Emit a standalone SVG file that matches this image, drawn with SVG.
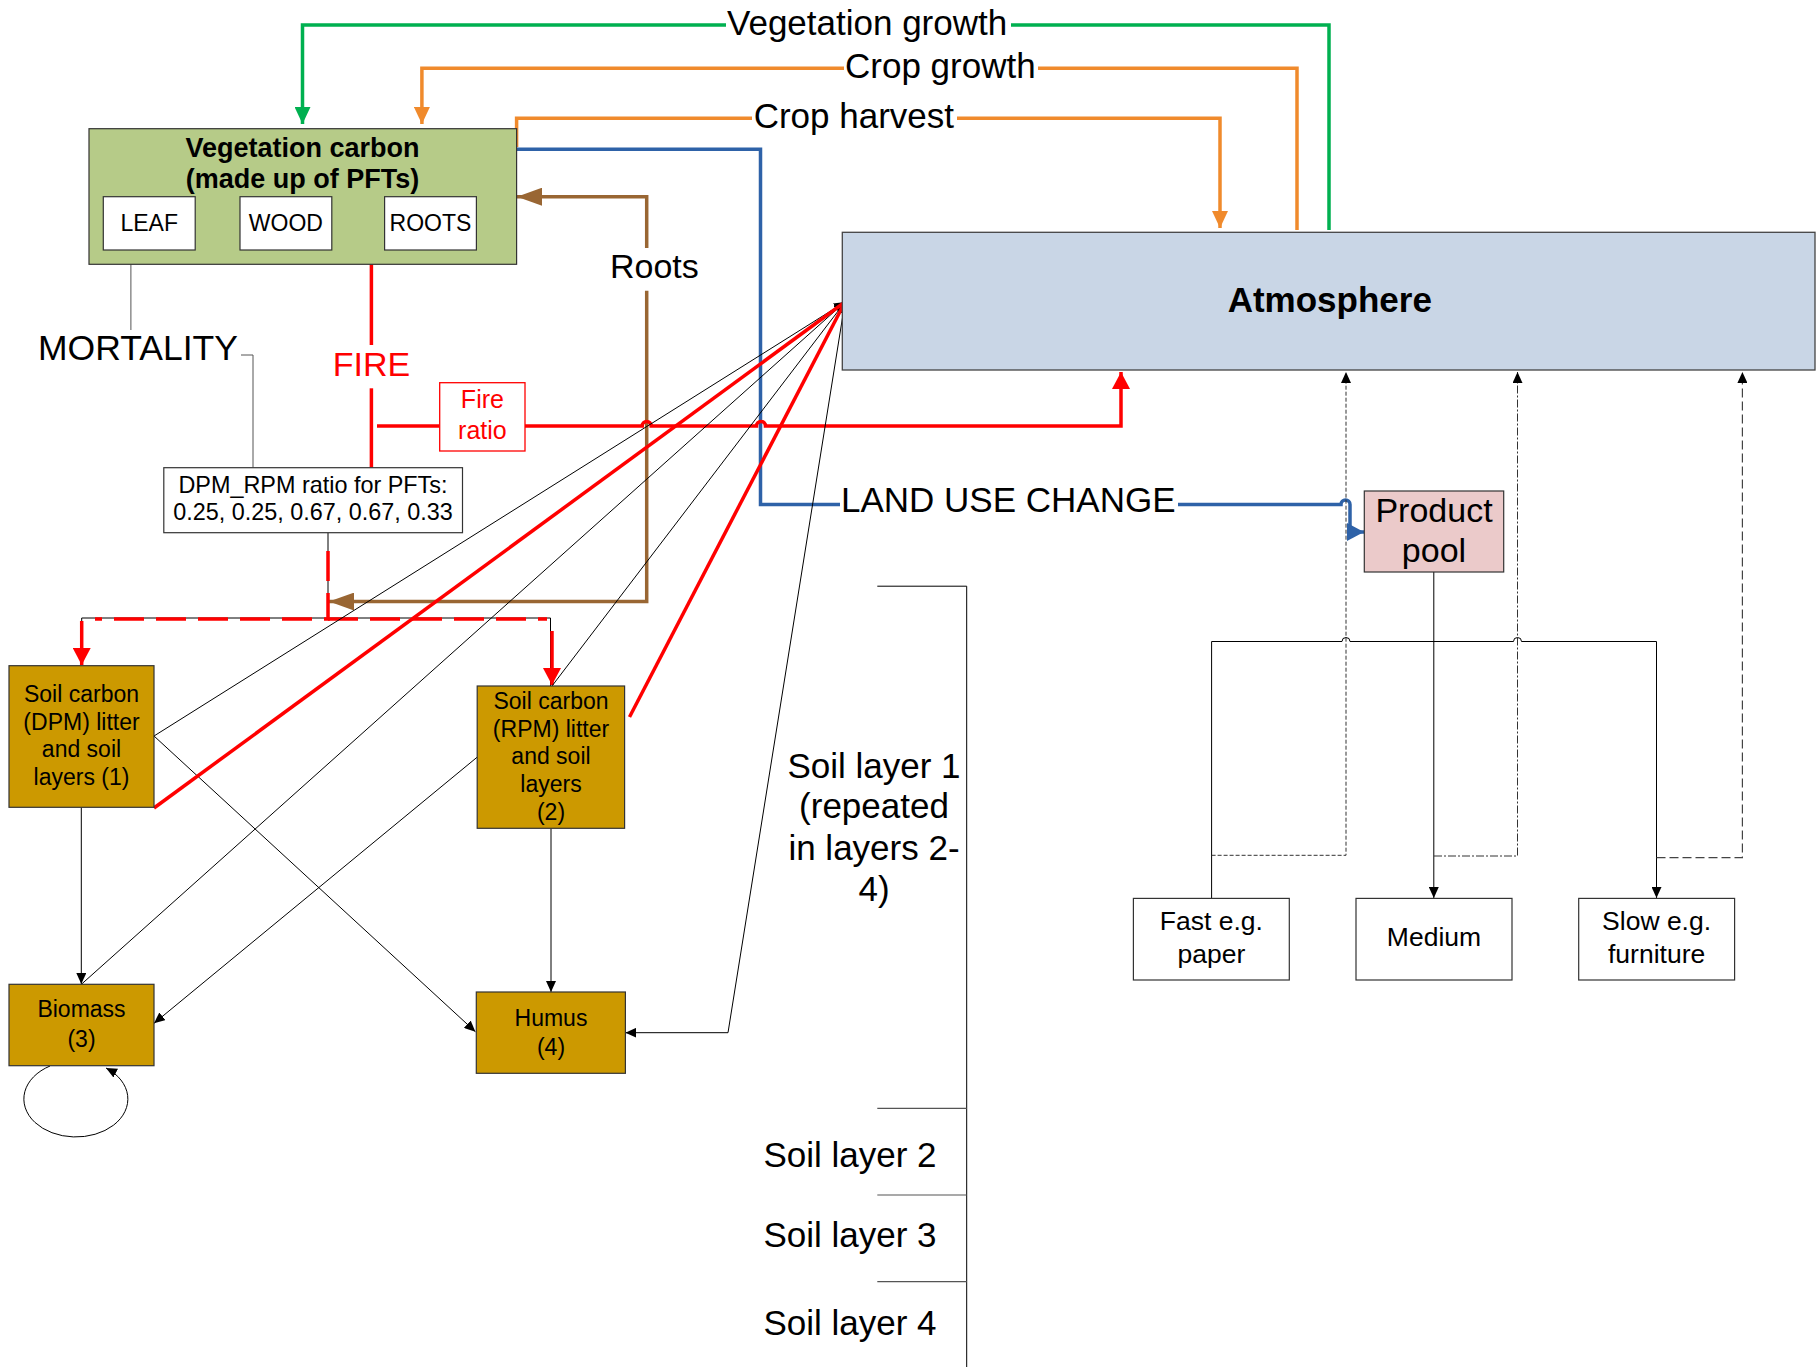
<svg xmlns="http://www.w3.org/2000/svg" width="1817" height="1367" viewBox="0 0 1817 1367">
<style>
text{font-family:"Liberation Sans",Arial,sans-serif;fill:#000}
.box{stroke:#333;stroke-width:1.2}
.wb{fill:#fff;stroke:#333;stroke-width:1.2}
.soil{fill:#CC9900;stroke:#333;stroke-width:1.2}
.thin{fill:none;stroke:#000;stroke-width:1}
.g{fill:none;stroke:#00B050;stroke-width:3.5}
.o{fill:none;stroke:#F08A2C;stroke-width:3.5}
.b{fill:none;stroke:#2E62A8;stroke-width:3.5}
.br{fill:none;stroke:#996633;stroke-width:3.5}
.r{fill:none;stroke:#FF0000;stroke-width:3.5}
.lab{font-size:34px}
.sl{font-size:35px}
.mid{text-anchor:middle}
</style>
<defs>
<marker id="mg" markerUnits="userSpaceOnUse" markerWidth="18" markerHeight="16" refX="17" refY="8" orient="auto"><path d="M0,0 L17,8 L0,16 z" fill="#00B050"/></marker>
<marker id="mo" markerUnits="userSpaceOnUse" markerWidth="18" markerHeight="16" refX="17" refY="8" orient="auto"><path d="M0,0 L17,8 L0,16 z" fill="#F08A2C"/></marker>
<marker id="mb" markerUnits="userSpaceOnUse" markerWidth="18" markerHeight="18" refX="17" refY="9" orient="auto"><path d="M0,0 L17,9 L0,18 z" fill="#2E62A8"/></marker>
<marker id="mbr" markerUnits="userSpaceOnUse" markerWidth="26" markerHeight="18" refX="25" refY="9" orient="auto"><path d="M0,0 L25,9 L0,18 z" fill="#996633"/></marker>
<marker id="mr" markerUnits="userSpaceOnUse" markerWidth="18" markerHeight="18" refX="17" refY="9" orient="auto"><path d="M0,0 L17,9 L0,18 z" fill="#FF0000"/></marker>
<marker id="mk" markerUnits="userSpaceOnUse" markerWidth="12" markerHeight="10" refX="11" refY="5" orient="auto"><path d="M0,0 L11,5 L0,10 z" fill="#000"/></marker>
</defs>

<g id="connectors">
  <path class="g" d="M1329,230 V25 H1011"/>
  <path class="g" d="M726,25 H302.5 V124" marker-end="url(#mg)"/>
  <path class="o" d="M1297,230 V68.3 H1038"/>
  <path class="o" d="M844,68.3 H421.9 V124" marker-end="url(#mo)"/>
  <path class="o" d="M516.6,147 V118.3 H752"/>
  <path class="o" d="M957,118.3 H1220 V228" marker-end="url(#mo)"/>
  <path class="b" d="M516.6,149.3 H760.5 V504.5 H840"/>
  <path class="b" d="M1178,504.5 H1341 a4.5,4.5 0 0 1 9,0 V532 H1364" marker-end="url(#mb)"/>
  <path class="br" d="M646.7,248 V196.7 H517" marker-end="url(#mbr)"/>
  <path class="br" d="M646.7,290.7 V601.6 H329" marker-end="url(#mbr)"/>
  <path fill="none" stroke="#555" stroke-width="1" d="M130.9,264.3 V330"/>
  <path fill="none" stroke="#555" stroke-width="1" d="M241,355 H253 V467.7"/>
  <path class="r" d="M371.4,264.3 V345"/>
  <path class="r" d="M371.4,388.3 V467.7"/>
  <path class="r" d="M377,426 H439.7"/>
  <path class="r" d="M525,426 H642.2 a4.5,4.5 0 0 1 9,0 H756.5 a4.5,4.5 0 0 1 9,0 H1121 V372" marker-end="url(#mr)"/>
  <path class="thin" d="M328,532.7 V618"/>
  <path class="thin" d="M81.7,665 V618 H550.5 V686"/>
  <path fill="none" stroke="#FF0000" stroke-width="3.5" stroke-dasharray="30,12" d="M328,551 V619 H95"/>
  <path fill="none" stroke="#FF0000" stroke-width="3.5" stroke-dasharray="30,12" d="M328,619 H547"/>
  <path class="r" d="M81.7,621 V665" marker-end="url(#mr)"/>
  <path class="r" d="M552,631 V685" marker-end="url(#mr)"/>
  <path class="thin" d="M81.3,807.3 V984" marker-end="url(#mk)"/>
  <path class="thin" d="M551,828.3 V992" marker-end="url(#mk)"/>
  <path class="thin" d="M154,736 L475.4,1031.7" marker-end="url(#mk)"/>
  <path class="thin" d="M477,757.3 L154,1023.3" marker-end="url(#mk)"/>
  <path class="thin" d="M50,1066 A52,38 0 1 0 106,1068" marker-end="url(#mk)"/>
  <path class="thin" d="M154,736 L845,302" marker-end="url(#mk)"/>
  <path class="thin" d="M81.7,984 L845,302" marker-end="url(#mk)"/>
  <path class="thin" d="M552,686 L845,302" marker-end="url(#mk)"/>
  <path class="thin" d="M845,302 L728,1032.7 H625.4" marker-end="url(#mk)"/>
  <path class="r" d="M154,808 L845,302"/>
  <path class="r" d="M629.5,717 L845,302"/>
  <path class="thin" d="M1433.8,572 V898" marker-end="url(#mk)"/>
  <path class="thin" d="M1211.6,898 V641.5 H1342 a4,4 0 0 1 8,0 H1513.5 a4,4 0 0 1 8,0 H1656.5 V898" marker-end="url(#mk)"/>
  <path fill="none" stroke="#333" stroke-width="1" stroke-dasharray="4,2" d="M1211.6,855.3 H1346 V372" marker-end="url(#mk)"/>
  <path fill="none" stroke="#333" stroke-width="1" stroke-dasharray="8,2,2,2" d="M1434,856 H1517.5 V372" marker-end="url(#mk)"/>
  <path fill="none" stroke="#444" stroke-width="1.2" stroke-dasharray="9,4" d="M1656.5,857.7 H1742.4 V372" marker-end="url(#mk)"/>
  <path class="thin" d="M877.3,586.2 H966.7 V1367"/>
  <path fill="none" stroke="#555" stroke-width="1.2" d="M877.3,1108.3 H966.7 M877.3,1195 H966.7 M877.3,1281.7 H966.7"/>
</g>

<g id="labels">
  <text x="727" y="35" style="font-size:35px">Vegetation growth</text>
  <text x="845" y="78.3" style="font-size:35px">Crop growth</text>
  <text x="753.7" y="128.3" style="font-size:35px">Crop harvest</text>
  <text x="841" y="511.5" style="font-size:35px">LAND USE CHANGE</text>
  <text class="lab mid" x="654.4" y="278.3">Roots</text>
  <text x="38" y="360" style="font-size:35.5px">MORTALITY</text>
  <text class="lab mid" x="371.4" y="376" style="fill:#FF0000">FIRE</text>
  <text class="sl mid"><tspan x="874" y="777.5">Soil layer 1</tspan><tspan x="874" y="818">(repeated</tspan><tspan x="874" y="859.8">in layers 2-</tspan><tspan x="874" y="901">4)</tspan></text>
  <text class="sl mid" x="850" y="1167.3">Soil layer 2</text>
  <text class="sl mid" x="850" y="1247.3">Soil layer 3</text>
  <text class="sl mid" x="850" y="1335">Soil layer 4</text>
</g>

<g id="vegetation">
  <rect class="box" x="89" y="128.7" width="427.6" height="135.6" fill="#B6CB88"/>
  <text class="mid" x="302.5" y="156.7" style="font-size:27px;font-weight:bold">Vegetation carbon</text>
  <text class="mid" x="302.5" y="187.5" style="font-size:27px;font-weight:bold">(made up of PFTs)</text>
</g>
<g id="leaf"><rect class="wb" x="103.3" y="196.7" width="91.9" height="53.3"/><text class="mid" x="149.2" y="231" style="font-size:23px">LEAF</text></g>
<g id="wood"><rect class="wb" x="240" y="196.7" width="91.8" height="53.3"/><text class="mid" x="285.9" y="231" style="font-size:23px">WOOD</text></g>
<g id="roots"><rect class="wb" x="384.6" y="196.7" width="91.8" height="53.3"/><text class="mid" x="430.5" y="231" style="font-size:23px">ROOTS</text></g>

<g id="atmosphere">
  <rect x="842.3" y="232.3" width="972.7" height="137.7" fill="#C9D6E6" stroke="#444" stroke-width="1.3"/>
  <text class="mid" x="1329.8" y="311.7" style="font-size:35px;font-weight:bold">Atmosphere</text>
</g>

<g id="fire-ratio">
  <rect x="439.7" y="382.7" width="85.3" height="68.3" fill="#fff" stroke="#FF0000" stroke-width="1.3"/>
  <text class="mid" x="482.4" y="408" style="font-size:25px;fill:#FF0000">Fire</text>
  <text class="mid" x="482.4" y="439" style="font-size:25px;fill:#FF0000">ratio</text>
</g>

<g id="dpm-rpm-ratio">
  <rect class="wb" x="163.8" y="467.7" width="298.7" height="65"/>
  <text class="mid" x="313" y="493.3" style="font-size:23.4px">DPM_RPM ratio for PFTs:</text>
  <text class="mid" x="313" y="520" style="font-size:23.4px">0.25, 0.25, 0.67, 0.67, 0.33</text>
</g>

<g id="soil-dpm">
  <rect class="soil" x="9" y="665.7" width="145" height="141.6"/>
  <text class="mid" style="font-size:23px"><tspan x="81.5" y="702.3">Soil carbon</tspan><tspan x="81.5" y="730">(DPM) litter</tspan><tspan x="81.5" y="757.3">and soil</tspan><tspan x="81.5" y="785">layers (1)</tspan></text>
</g>
<g id="soil-rpm">
  <rect class="soil" x="477.2" y="686" width="147.4" height="142.3"/>
  <text class="mid" style="font-size:23px"><tspan x="551" y="709">Soil carbon</tspan><tspan x="551" y="736.7">(RPM) litter</tspan><tspan x="551" y="764">and soil</tspan><tspan x="551" y="791.7">layers</tspan><tspan x="551" y="820">(2)</tspan></text>
</g>
<g id="biomass">
  <rect class="soil" x="9" y="984.3" width="145" height="81.4"/>
  <text class="mid" style="font-size:23px"><tspan x="81.5" y="1017.3">Biomass</tspan><tspan x="81.5" y="1047.3">(3)</tspan></text>
</g>
<g id="humus">
  <rect class="soil" x="476.3" y="992" width="149.1" height="81.3"/>
  <text class="mid" style="font-size:23px"><tspan x="551" y="1025.7">Humus</tspan><tspan x="551" y="1055">(4)</tspan></text>
</g>

<g id="product-pool">
  <rect x="1364.3" y="491" width="139.4" height="81" fill="#EBCACA" stroke="#333" stroke-width="1.2"/>
  <text class="mid" x="1434" y="522" style="font-size:34px">Product</text>
  <text class="mid" x="1434" y="561.6" style="font-size:34px">pool</text>
</g>
<g id="fast">
  <rect class="wb" x="1133.4" y="898.4" width="155.9" height="81.6"/>
  <text class="mid" style="font-size:26.5px"><tspan x="1211.4" y="930">Fast e.g.</tspan><tspan x="1211.4" y="962.7">paper</tspan></text>
</g>
<g id="medium">
  <rect class="wb" x="1356" y="898.4" width="156" height="81.6"/>
  <text class="mid" x="1434" y="946.2" style="font-size:26.5px">Medium</text>
</g>
<g id="slow">
  <rect class="wb" x="1578.7" y="898.4" width="155.9" height="81.6"/>
  <text class="mid" style="font-size:26.5px"><tspan x="1656.6" y="930">Slow e.g.</tspan><tspan x="1656.6" y="962.7">furniture</tspan></text>
</g>
</svg>
